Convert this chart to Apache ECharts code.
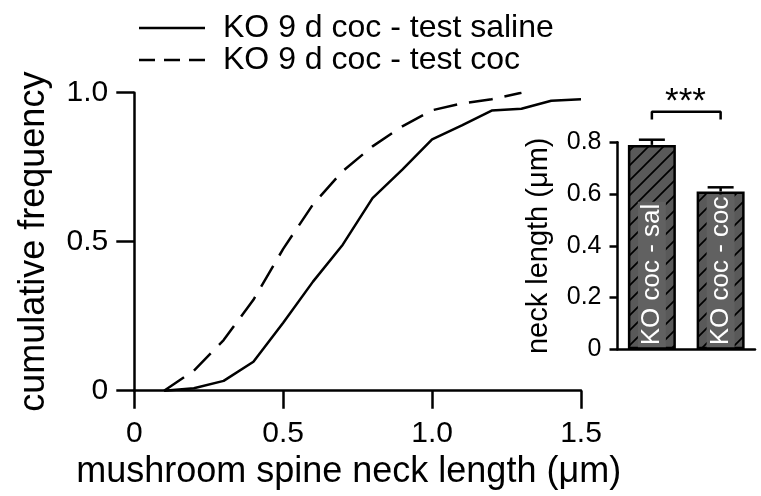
<!DOCTYPE html>
<html>
<head>
<meta charset="utf-8">
<script src="https://cdn.jsdelivr.net/npm/echarts@6/dist/echarts.min.js"></script>
<style>
    html, body { margin: 0; padding: 0; background: #fff; }
    #chart { width: 761px; height: 496px; }
</style>
</head>
<body>
<div id="chart"></div>
<script>
// cumulative distributions, neck length in um
var salineLength = [0.1, 0.2, 0.3, 0.4, 0.5, 0.6, 0.7, 0.8, 0.9, 1.0, 1.1, 1.2, 1.3, 1.4, 1.5];
var salineFreq   = [0, 0.008, 0.033, 0.097, 0.228, 0.366, 0.49, 0.646, 0.742, 0.843, 0.89, 0.94, 0.946, 0.973, 0.978];
var cocLength    = [0.1, 0.2, 0.3, 0.4, 0.5, 0.6, 0.7, 0.8, 0.9, 1.0, 1.1, 1.2, 1.3];
var cocFreq      = [0, 0.067, 0.17, 0.305, 0.476, 0.625, 0.737, 0.82, 0.887, 0.941, 0.964, 0.978, 1.0];

// inset bar chart
var barNames = ['KO coc - sal', 'KO coc - coc'];
var barMeans = [0.79, 0.61];
var barSem   = [0.02, 0.016];
var bracketY = [0.888, 0.918];

var legendNames = ['KO 9 d coc - test saline', 'KO 9 d coc - test coc'];
var FONT = '"Liberation Sans", Arial, sans-serif';

// legend glyphs: a solid rule and three dashes (66 x 2.5)
var solidIcon = 'path://M0,0h66v2.5h-66z';
var dashIcon = 'path://M0,0h16v2.5h-16z M25,0h16v2.5h-16z M50,0h16v2.5h-16z';

function toPairs(xs, ys) {
    var res = [];
    for (var i = 0; i < xs.length; i++) {
        res.push([xs[i], ys[i]]);
    }
    return res;
}

function tickLabel(v) {
    return v === 0 ? '0' : v.toFixed(1);
}

// diagonal hatching for the bars
function hatchPattern() {
    var c = document.createElement('canvas');
    c.width = 15;
    c.height = 15;
    var ctx = c.getContext('2d');
    ctx.fillStyle = '#595959';
    ctx.fillRect(0, 0, 15, 15);
    ctx.strokeStyle = '#000';
    ctx.lineWidth = 1.7;
    ctx.beginPath();
    ctx.moveTo(0, 15); ctx.lineTo(15, 0);
    ctx.moveTo(-3, 3); ctx.lineTo(3, -3);
    ctx.moveTo(12, 18); ctx.lineTo(18, 12);
    ctx.stroke();
    return c;
}

var chart = echarts.init(document.getElementById('chart'), null, { renderer: 'canvas' });

var axisLine = { lineStyle: { color: '#000', width: 2.5 } };

var option = {
    backgroundColor: '#fff',
    animation: false,
    textStyle: { fontFamily: FONT, color: '#000' },
    legend: {
        orient: 'vertical',
        left: 134,
        top: 7,
        itemWidth: 66,
        itemHeight: 2.5,
        itemGap: 0,
        textStyle: { fontFamily: FONT, fontSize: 32, lineHeight: 28, color: '#000', padding: [0, 0, 0, 13] },
        data: [
            { name: legendNames[0], icon: solidIcon },
            { name: legendNames[1], icon: dashIcon }
        ]
    },
    grid: [
        { left: 134.3, right: 180, top: 92.7, bottom: 105.3 },
        { left: 617.5, width: 137.5, top: 142.3, bottom: 146.7 }
    ],
    xAxis: [{
        gridIndex: 0,
        type: 'value',
        min: 0, max: 1.5, interval: 0.5,
        name: 'mushroom spine neck length (\u03bcm)',
        nameLocation: 'middle',
        nameGap: 59,
        nameTextStyle: { fontFamily: FONT, fontSize: 36, color: '#000', padding: [0, 18, 0, 0] },
        axisLine: axisLine,
        axisTick: { length: 18, lineStyle: { color: '#000', width: 2.5 } },
        axisLabel: { fontFamily: FONT, fontSize: 30, color: '#000', margin: 28, formatter: tickLabel },
        splitLine: { show: false }
    }, {
        gridIndex: 1,
        type: 'category',
        data: barNames,
        axisLine: axisLine,
        axisTick: { show: false },
        axisLabel: { show: false }
    }],
    yAxis: [{
        gridIndex: 0,
        type: 'value',
        min: 0, max: 1, interval: 0.5,
        name: 'cumulative frequency',
        nameLocation: 'middle',
        nameGap: 82,
        nameTextStyle: { fontFamily: FONT, fontSize: 36, color: '#000' },
        axisLine: { show: true, lineStyle: { color: '#000', width: 2.5 } },
        axisTick: { show: true, length: 18, lineStyle: { color: '#000', width: 2.5 } },
        axisLabel: { fontFamily: FONT, fontSize: 30, color: '#000', margin: 26, formatter: tickLabel },
        splitLine: { show: false }
    }, {
        gridIndex: 1,
        type: 'value',
        min: 0, max: 0.8, interval: 0.2,
        name: 'neck length (\u03bcm)',
        nameLocation: 'middle',
        nameGap: 64,
        nameTextStyle: { fontFamily: FONT, fontSize: 29, color: '#000' },
        axisLine: { show: true, lineStyle: { color: '#000', width: 2.5 } },
        axisTick: { show: true, length: 8, lineStyle: { color: '#000', width: 2.5 } },
        axisLabel: { fontFamily: FONT, fontSize: 25, color: '#000', margin: 16, formatter: tickLabel },
        splitLine: { show: false }
    }],
    graphic: [{
        type: 'text',
        x: 685.5,
        y: 102,
        style: { text: '***', fontFamily: FONT, fontSize: 35, fill: '#000', align: 'center', verticalAlign: 'middle' }
    }],
    series: [{
        name: legendNames[0],
        type: 'line',
        xAxisIndex: 0, yAxisIndex: 0,
        symbol: 'none',
        lineStyle: { color: '#000', width: 2.5, type: 'solid' },
        itemStyle: { color: '#000' },
        data: toPairs(salineLength, salineFreq)
    }, {
        name: legendNames[1],
        type: 'line',
        xAxisIndex: 0, yAxisIndex: 0,
        symbol: 'none',
        lineStyle: { color: '#000', width: 2.5, type: [24, 12] },
        itemStyle: { color: '#000' },
        data: toPairs(cocLength, cocFreq)
    }, {
        type: 'bar',
        xAxisIndex: 1, yAxisIndex: 1,
        barWidth: 48,
        itemStyle: {
            color: { image: hatchPattern(), repeat: 'repeat' },
            borderColor: '#000',
            borderWidth: 2.5
        },
        label: {
            show: true,
            position: 'insideBottom',
            rotate: 90,
            align: 'left',
            verticalAlign: 'middle',
            distance: 2,
            formatter: '{b}',
            fontFamily: FONT,
            fontSize: 26,
            color: '#fff',
            backgroundColor: '#616161',
            padding: [1, 2]
        },
        data: barMeans
    }, {
        // upper error bars
        type: 'custom',
        xAxisIndex: 1, yAxisIndex: 1,
        z: 10,
        encode: { x: 0, y: 1 },
        renderItem: function (params, api) {
            var base = api.coord([api.value(0), api.value(1)]);
            var top = api.coord([api.value(0), api.value(1) + api.value(2)]);
            var st = { stroke: '#000', lineWidth: 2.5 };
            return {
                type: 'group',
                children: [
                    { type: 'line', shape: { x1: base[0], y1: base[1], x2: base[0], y2: top[1] }, style: st },
                    { type: 'line', shape: { x1: base[0] - 13, y1: top[1], x2: base[0] + 13, y2: top[1] }, style: st }
                ]
            };
        },
        data: barMeans.map(function (m, i) { return [i, m, barSem[i]]; })
    }, {
        // significance bracket
        type: 'line',
        xAxisIndex: 1, yAxisIndex: 1,
        symbol: 'none',
        clip: false,
        lineStyle: { color: '#000', width: 2.5 },
        data: [[0, bracketY[0]], [0, bracketY[1]], [1, bracketY[1]], [1, bracketY[0]]]
    }]
};

chart.setOption(option);
</script>
</body>
</html>
